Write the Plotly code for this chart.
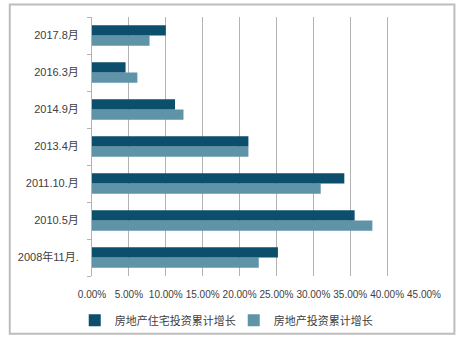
import plotly.graph_objects as go

# Periods, bottom to top on the category axis
periods = ["2008年11月.", "2010.5月", "2011.10.月", "2013.4月", "2014.9月", "2016.3月", "2017.8月"]
# Cumulative growth, as fractions
residential_growth = [0.252, 0.356, 0.342, 0.212, 0.1125, 0.0455, 0.100]
investment_growth = [0.226, 0.380, 0.310, 0.212, 0.124, 0.0615, 0.078]

series_names = ["房地产住宅投资累计增长", "房地产投资累计增长"]
dark = "#0B4F6C"
light = "#5E93A8"
font_family = "Liberation Sans, Noto Sans CJK SC, sans-serif"
text_color = "#404040"

fig = go.Figure()
# lighter series first so it sits in the lower half of each group
fig.add_trace(go.Bar(
    y=periods, x=investment_growth, orientation="h",
    name=series_names[1], marker=dict(color=light, line=dict(width=0)),
))
fig.add_trace(go.Bar(
    y=periods, x=residential_growth, orientation="h",
    name=series_names[0], marker=dict(color=dark, line=dict(width=0)),
))

fig.update_layout(
    width=461, height=347,
    margin=dict(l=91.5, r=36.5, t=17, b=67),
    paper_bgcolor="white", plot_bgcolor="white",
    barmode="group", bargap=0.44, bargroupgap=0,
    font=dict(family=font_family, size=11, color=text_color),
    showlegend=True,
    legend=dict(
        orientation="h", traceorder="reversed",
        x=-0.052, xanchor="left", y=-0.115, yanchor="top",
        font=dict(size=11, color=text_color),
        itemwidth=30, entrywidth=114, entrywidthmode="pixels",
        bgcolor="rgba(0,0,0,0)",
    ),
    xaxis=dict(
        range=[0, 0.45], dtick=0.05, tick0=0, tickformat=".2%",
        showgrid=True, gridcolor="#B3B3B3", gridwidth=1,
        zeroline=False, showline=False, ticks="",
        tickangle=0, ticklabelstandoff=11,
        tickfont=dict(size=10, color=text_color),
        fixedrange=True,
    ),
    yaxis=dict(
        type="category", categoryorder="array", categoryarray=periods,
        showline=True, linecolor="#B3B3B3", linewidth=1,
        ticks="outside", tickson="boundaries", ticklen=4, tickcolor="#B3B3B3",
        ticklabelstandoff=10,
        showgrid=False, tickfont=dict(size=11, color=text_color),
        fixedrange=True,
    ),
    shapes=[dict(
        type="rect", xref="paper", yref="paper",
        x0=-0.2477, x1=1.0916, y0=-0.2232, y1=1.048,
        line=dict(color="#BDBDBD", width=2), fillcolor="rgba(0,0,0,0)",
        layer="below",
    )],
)

fig.write_html("out.html")
